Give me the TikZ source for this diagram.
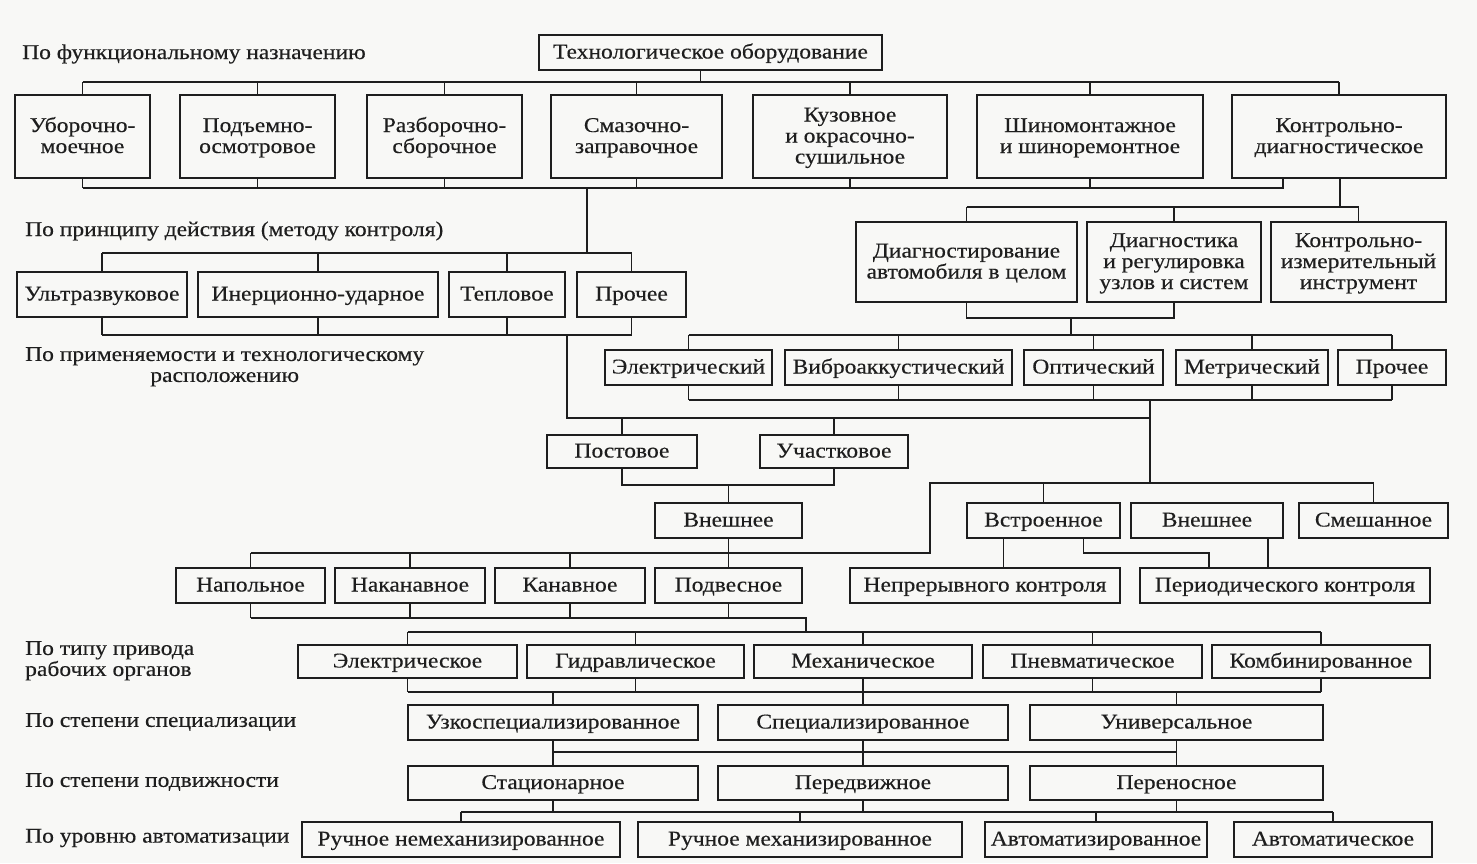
\documentclass[tikz,border=0pt]{standalone}
\usepackage{fontspec}
\setmainfont{Liberation Serif}[FakeStretch=1.12,FakeBold=0.3]
\definecolor{ink}{RGB}{30,30,30}
\definecolor{bg}{RGB}{248,248,246}
\newcommand\ft{\fontsize{21}{21}\selectfont}
\newcommand\topstr{\vrule height 18pt depth 0pt width 0pt\relax}
\newcommand\botstr{\vrule height 0pt depth 6pt width 0pt\relax}
\newcommand\B[6]{\node[box,minimum width=#4,minimum height=#5] (#1) at (#2,#3) {\topstr #6\botstr};}
\begin{document}
\begin{tikzpicture}[x=1pt,y=-1pt,
  box/.style={draw=ink, line width=1.8pt, inner sep=1pt, align=center, font=\ft, text=ink},
  lbl/.style={inner sep=0pt, font=\ft, text=ink, anchor=west},
  ln/.style={draw=ink, line width=1.5pt}]
\fill[bg] (0,0) rectangle (1477,863);
\useasboundingbox (0,0) rectangle (1477,863);
% ---------- labels
\node[lbl] (L1) at (22,54) {По функциональному назначению};
\node[lbl] (L2) at (25,231) {По принципу действия (методу контроля)};
\node[lbl, anchor=north west, align=center] (L3) at (25,347) {По применяемости и технологическому\\расположению};
\node[lbl, anchor=north west, align=left] (L4) at (25,641) {По типу привода\\рабочих органов};
\node[lbl] (L5) at (25,722) {По степени специализации};
\node[lbl] (L6) at (25,782) {По степени подвижности};
\node[lbl] (L7) at (25,838) {По уровню автоматизации};
% ---------- boxes
\B{title}{710.5}{52.5}{343}{35}{Технологическое оборудование}
\B{ubor}{82.5}{136.5}{135}{83}{Уборочно-\\моечное}
\B{podem}{257.5}{136.5}{155}{83}{Подъемно-\\осмотровое}
\B{razb}{444.5}{136.5}{155}{83}{Разборочно-\\сборочное}
\B{smaz}{636.5}{136.5}{171}{83}{Смазочно-\\заправочное}
\B{kuz}{850}{136.5}{194}{83}{Кузовное\\и окрасочно-\\сушильное}
\B{shin}{1090}{136.5}{226}{83}{Шиномонтажное\\и шиноремонтное}
\B{kontr}{1339}{136.5}{214}{83}{Контрольно-\\диагностическое}
\B{ultra}{102}{294.5}{170}{45}{Ультразвуковое}
\B{iner}{318}{294.5}{240}{45}{Инерционно-ударное}
\B{tepl}{507}{294.5}{116}{45}{Тепловое}
\B{proch1}{631.5}{294.5}{109}{45}{Прочее}
\B{diag1}{966.5}{262}{221}{80}{Диагностирование\\автомобиля в целом}
\B{diag2}{1174}{262}{174}{80}{Диагностика\\и регулировка\\узлов и систем}
\B{diag3}{1358.5}{262}{175}{80}{Контрольно-\\измерительный\\инструмент}
\B{el1}{688.5}{367.5}{167}{35}{Электрический}
\B{vibro}{898.5}{367.5}{227}{35}{Виброаккустический}
\B{opt}{1093.5}{367.5}{139}{35}{Оптический}
\B{metr}{1252}{367.5}{152}{35}{Метрический}
\B{proch2}{1392}{367.5}{108}{35}{Прочее}
\B{post}{622}{451.5}{150}{33}{Постовое}
\B{uch}{834}{451.5}{148}{33}{Участковое}
\B{vnesh1}{728.5}{520.5}{147}{35}{Внешнее}
\B{vstr}{1043.5}{520.5}{153}{35}{Встроенное}
\B{vnesh2}{1207}{520.5}{152}{35}{Внешнее}
\B{smesh}{1373.5}{520.5}{149}{35}{Смешанное}
\B{nap}{250.5}{585.5}{149}{35}{Напольное}
\B{nakan}{410}{585.5}{150}{35}{Наканавное}
\B{kan}{570}{585.5}{150}{35}{Канавное}
\B{podv}{728.5}{585.5}{147}{35}{Подвесное}
\B{nepr}{985}{585.5}{270}{35}{Непрерывного контроля}
\B{period}{1285}{585.5}{290}{35}{Периодического контроля}
\B{e1}{407.5}{661.5}{219}{33}{Электрическое}
\B{gidr}{635.5}{661.5}{217}{33}{Гидравлическое}
\B{mech}{863}{661.5}{218}{33}{Механическое}
\B{pnev}{1092.5}{661.5}{219}{33}{Пневматическое}
\B{komb}{1321}{661.5}{218}{33}{Комбинированное}
\B{uzko}{553}{722.5}{290}{35}{Узкоспециализированное}
\B{spec}{863}{722.5}{290}{35}{Специализированное}
\B{univ}{1176.5}{722.5}{293}{35}{Универсальное}
\B{stac}{553}{783}{290}{34}{Стационарное}
\B{pered}{863}{783}{290}{34}{Передвижное}
\B{peren}{1176.5}{783}{293}{34}{Переносное}
\B{ruch1}{461}{839.5}{318}{35}{Ручное немеханизированное}
\B{ruch2}{800}{839.5}{324}{35}{Ручное механизированное}
\B{avtz}{1096}{839.5}{222}{35}{Автоматизированное}
\B{avt}{1333}{839.5}{198}{35}{Автоматическое}
% ---------- bus levels
\coordinate (y82) at (0,82);
\coordinate (y188) at (0,188);
\coordinate (y207) at (0,207);
\coordinate (y253) at (0,253);
\coordinate (y318) at (0,318);
\coordinate (y335) at (0,335);
\coordinate (y400) at (0,400);
\coordinate (y418) at (0,418);
\coordinate (y483) at (0,483);
\coordinate (y485) at (0,485);
\coordinate (y553) at (0,553);
\coordinate (y618) at (0,618);
\coordinate (y632) at (0,632);
\coordinate (y692) at (0,692);
\coordinate (y752) at (0,752);
\coordinate (y812) at (0,812);
% ---------- connectors
% level 1
\coordinate (t0) at ([xshift=-10pt]title.south);
\draw[ln] (t0) -- (t0|-y82);
\draw[ln] (ubor.north|-y82) -- (kontr.north|-y82);
\foreach \n in {ubor,podem,razb,smaz,kuz,shin,kontr} \draw[ln] (\n.north) -- (\n.north|-y82);
\coordinate (k2) at ([xshift=-56pt]kontr.south);
\draw[ln] (ubor.south|-y188) -- (k2|-y188) -- (k2);
\foreach \n in {ubor,podem,razb,smaz,kuz,shin} \draw[ln] (\n.south) -- (\n.south|-y188);
% left branch
\coordinate (t1) at (587,188);
\draw[ln] (t1) -- (t1|-y253);
\draw[ln] (ultra.north|-y253) -- (proch1.north|-y253);
\foreach \n in {ultra,iner,tepl,proch1} \draw[ln] (\n.north) -- (\n.north|-y253);
\draw[ln] (ultra.south|-y335) -- (proch1.south|-y335);
\foreach \n in {ultra,iner,tepl,proch1} \draw[ln] (\n.south) -- (\n.south|-y335);
\coordinate (t2) at (567,335);
\coordinate (t3) at (1150,400);
\draw[ln] (t2) -- (t2|-y418) -- (t3|-y418);
% right branch
\coordinate (k3) at ([xshift=1pt]kontr.south);
\draw[ln] (k3) -- (k3|-y207);
\draw[ln] (diag1.north|-y207) -- (diag3.north|-y207);
\foreach \n in {diag1,diag2,diag3} \draw[ln] (\n.north) -- (\n.north|-y207);
\draw[ln] (diag1.south) -- (diag1.south|-y318) -- (diag2.south|-y318) -- (diag2.south);
\coordinate (t4) at (1071,318);
\draw[ln] (t4) -- (t4|-y335);
\draw[ln] (el1.north|-y335) -- (proch2.north|-y335);
\foreach \n in {el1,vibro,opt,metr,proch2} \draw[ln] (\n.north) -- (\n.north|-y335);
\draw[ln] (el1.south|-y400) -- (proch2.south|-y400);
\foreach \n in {el1,vibro,opt,metr,proch2} \draw[ln] (\n.south) -- (\n.south|-y400);
\draw[ln] (t3) -- (t3|-y483);
% post / uch
\foreach \n in {post,uch} \draw[ln] (\n.north) -- (\n.north|-y418);
\draw[ln] (post.south) -- (post.south|-y485) -- (uch.south|-y485) -- (uch.south);
\draw[ln] (vnesh1.north) -- (vnesh1.north|-y485);
\draw[ln] (vnesh1.south) -- (podv.north);
\coordinate (t5) at (930,553);
\draw[ln] (nap.north|-y553) -- (t5) -- (t5|-y483) -- (smesh.north|-y483);
\foreach \n in {nap,nakan,kan} \draw[ln] (\n.north) -- (\n.north|-y553);
\foreach \n in {vstr,smesh} \draw[ln] (\n.north) -- (\n.north|-y483);
\coordinate (v1) at ([xshift=-40pt]vstr.south);
\coordinate (v2) at ([xshift=40pt]vstr.south);
\coordinate (p1) at ([xshift=-76pt]period.north);
\coordinate (w1) at ([xshift=61pt]vnesh2.south);
\draw[ln] (v1) -- (v1|-nepr.north);
\draw[ln] (v2) -- (v2|-y553) -- (p1|-y553) -- (p1);
\draw[ln] (w1) -- (w1|-period.north);
% napolnoe row
\coordinate (t6) at (806,618);
\draw[ln] (nap.south|-y618) -- (t6) -- (t6|-y632);
\foreach \n in {nap,nakan,kan,podv} \draw[ln] (\n.south) -- (\n.south|-y618);
% drive type
\draw[ln] (e1.north|-y632) -- (komb.north|-y632);
\foreach \n in {e1,gidr,mech,pnev,komb} \draw[ln] (\n.north) -- (\n.north|-y632);
\draw[ln] (e1.south|-y692) -- (komb.south|-y692);
\foreach \n in {e1,gidr,mech,pnev,komb} \draw[ln] (\n.south) -- (\n.south|-y692);
\foreach \n in {uzko,spec,univ} \draw[ln] (\n.north) -- (\n.north|-y692);
% specialisation / mobility
\draw[ln] (uzko.south|-y752) -- (univ.south|-y752);
\foreach \n in {uzko,spec,univ} \draw[ln] (\n.south) -- (\n.south|-y752);
\foreach \n in {stac,pered,peren} \draw[ln] (\n.north) -- (\n.north|-y752);
\draw[ln] (ruch1.north|-y812) -- (avt.north|-y812);
\foreach \n in {stac,pered,peren} \draw[ln] (\n.south) -- (\n.south|-y812);
\foreach \n in {ruch1,ruch2,avtz,avt} \draw[ln] (\n.north) -- (\n.north|-y812);
\end{tikzpicture}
\end{document}
